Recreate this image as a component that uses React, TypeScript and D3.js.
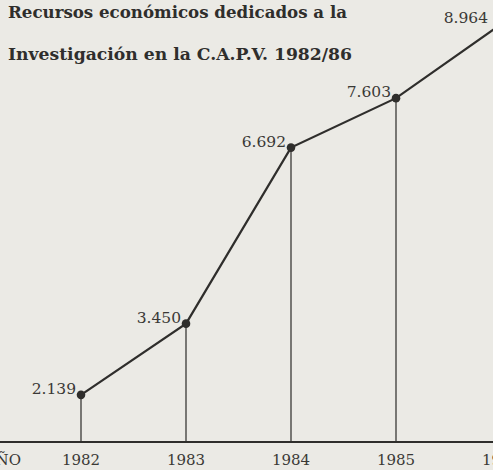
import React from "react";
import * as d3 from "d3";

const years = [1982, 1983, 1984, 1985, 1986];
const values = [2139, 3450, 6692, 7603, 8964];
const valueLabels = ["2.139", "3.450", "6.692", "7.603", "8.964"];
const yearLabels = ["1982", "1983", "1984", "1985", "1986"];
const axisLabel = "AÑO";
const titleLines = [
  "Recursos económicos dedicados a la",
  "Investigación en la C.A.P.V. 1982/86",
];

const W = 493;
const H = 470;

export default function App() {
  const x = d3.scaleLinear().domain([1982, 1986]).range([81, 501]);
  const y = d3.scaleLinear().domain([0, 10000]).range([511, -32]);
  const baseY = 442;
  const pts = years.map((yr, i) => [x(yr), y(values[i])] as [number, number]);
  const line = d3.line()(pts) || "";
  const ink = "#2f2e2c";
  const font = "'DejaVu Serif', serif";

  return (
    <div style={{ position: "fixed", left: 0, top: 0 }}>
      <svg width={W} height={H} style={{ display: "block" }}>
        <rect x={0} y={0} width={W} height={H} fill="#ebeae5" />
        <text x={8} y={18} fontFamily={font} fontWeight="bold" fontSize={16.5} fill={ink}
          textLength={339} lengthAdjust="spacingAndGlyphs">{titleLines[0]}</text>
        <text x={8} y={60} fontFamily={font} fontWeight="bold" fontSize={16.5} fill={ink}
          textLength={344} lengthAdjust="spacingAndGlyphs">{titleLines[1]}</text>

        {pts.map(([px, py], i) => (
          <line key={"v" + i} x1={px} x2={px} y1={py} y2={baseY} stroke="#3a3936" strokeWidth={1.3} />
        ))}
        <line x1={0} x2={W} y1={baseY} y2={baseY} stroke={ink} strokeWidth={2} />
        <path d={line} fill="none" stroke={ink} strokeWidth={2.2} />
        {pts.map(([px, py], i) => (
          <circle key={"c" + i} cx={px} cy={py} r={4.3} fill={ink} />
        ))}
        {pts.map(([px, py], i) => (
          <text key={"l" + i} x={Math.min(px - 5, W - 5)} y={Math.max(py - 1, 18)} textAnchor="end"
            fontFamily={font} fontSize={15.5} fill="#3a3936">{valueLabels[i]}</text>
        ))}
        {years.map((yr, i) => (
          <text key={"y" + i} x={x(yr)} y={465} textAnchor="middle" fontFamily={font}
            fontSize={15} fill="#3a3936">{yearLabels[i]}</text>
        ))}
        <text x={21} y={465} textAnchor="end" fontFamily={font} fontSize={15} fill="#3a3936">{axisLabel}</text>
      </svg>
    </div>
  );
}
